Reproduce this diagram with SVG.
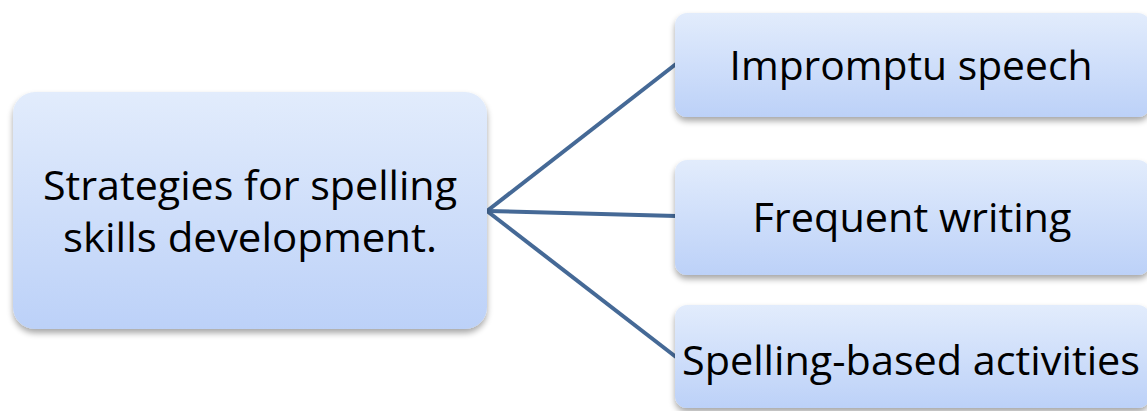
<svg xmlns="http://www.w3.org/2000/svg" width="1147" height="411" viewBox="0 0 1147 411">
<defs>
<linearGradient id="g" x1="0" y1="0" x2="0" y2="1">
<stop offset="0" stop-color="#e2ecfc"/>
<stop offset="1" stop-color="#bcd1f8"/>
</linearGradient>
<filter id="sh" x="-10%" y="-10%" width="120%" height="130%">
<feGaussianBlur in="SourceAlpha" stdDeviation="3"/>
<feOffset dx="0" dy="4" result="b"/>
<feComponentTransfer><feFuncA type="linear" slope="0.35"/></feComponentTransfer>
<feMerge><feMergeNode/><feMergeNode in="SourceGraphic"/></feMerge>
</filter>
</defs>
<style>
.box{fill:url(#g);filter:url(#sh);}
.t{font-family:"Open Sans","Liberation Sans",sans-serif;fill:#000;text-anchor:middle;}
.c{stroke:#456996;stroke-width:4;fill:none;}
</style>
<rect width="1147" height="411" fill="#fff"/>
<g id="connectors">
<line class="c" x1="487" y1="211" x2="676" y2="64"/>
<line class="c" x1="487" y1="211" x2="676" y2="216"/>
<line class="c" x1="487" y1="211" x2="676" y2="357"/>
</g>
<g id="root">
<rect class="box" x="13" y="92" width="474" height="237" rx="22"/>
<text class="t" x="250" y="200" font-size="41" textLength="414" lengthAdjust="spacingAndGlyphs">Strategies for spelling</text>
<text class="t" x="250" y="252" font-size="41" textLength="374" lengthAdjust="spacingAndGlyphs">skills development.</text>
</g>
<g id="n1">
<rect class="box" x="675" y="13" width="475" height="104" rx="12"/>
<text class="t" x="911" y="80" font-size="41" textLength="363" lengthAdjust="spacingAndGlyphs">Impromptu speech</text>
</g>
<g id="n2">
<rect class="box" x="675" y="160" width="475" height="115" rx="12"/>
<text class="t" x="912" y="232" font-size="41" textLength="319" lengthAdjust="spacingAndGlyphs">Frequent writing</text>
</g>
<g id="n3">
<rect class="box" x="675" y="305" width="475" height="103" rx="12"/>
<text class="t" x="911" y="375" font-size="41" textLength="458" lengthAdjust="spacingAndGlyphs">Spelling-based activities</text>
</g>
</svg>
